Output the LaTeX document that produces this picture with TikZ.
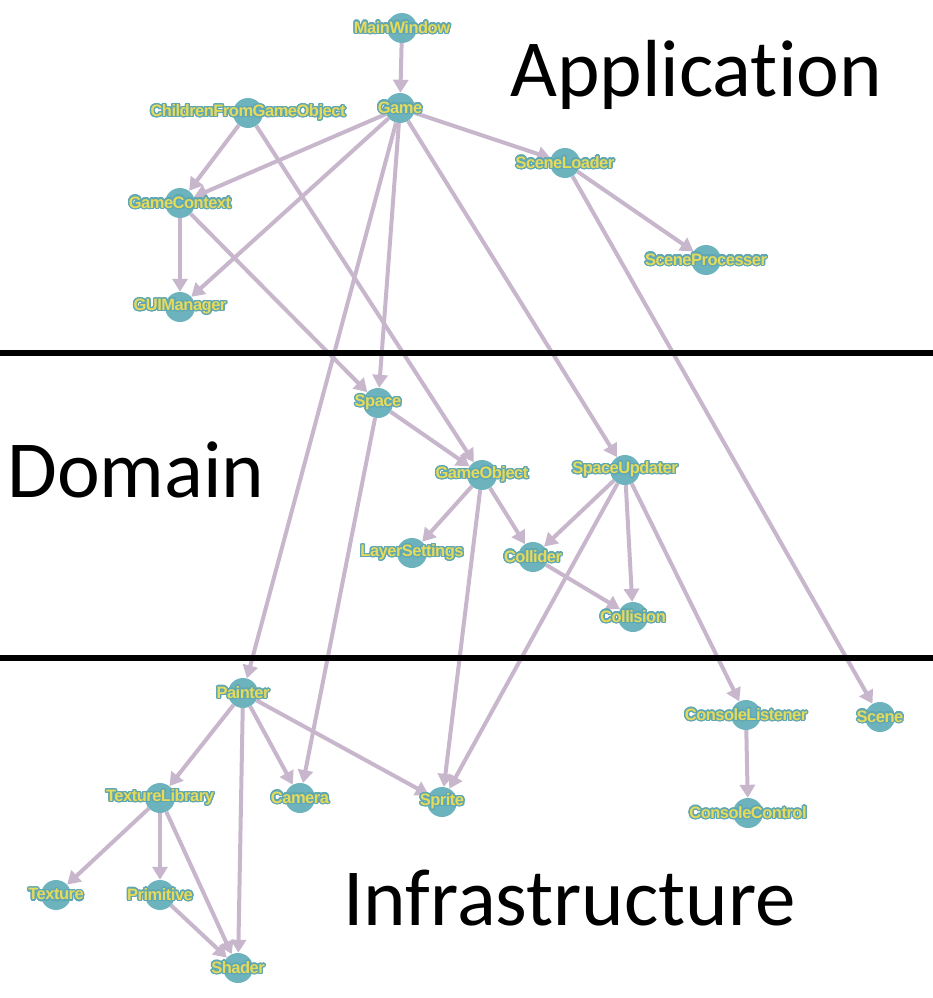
\documentclass[tikz,border=0pt]{standalone}
\usepackage{fontspec}
\usepackage[copies]{contour}
\usetikzlibrary{arrows.meta}
\newfontfamily\lblfont{Liberation Sans Bold}[LetterSpace=-3]
\newfontfamily\bigfont{Carlito}[Ligatures={NoCommon}]
\definecolor{nodeteal}{HTML}{6DB3BE}
\definecolor{lblyellow}{HTML}{E6DA5A}
\definecolor{lbledge}{HTML}{5FA7B3}
\definecolor{edgecol}{HTML}{C8B7CC}
\contourlength{1.3pt}
\contournumber{24}
\pgfdeclarelayer{bg}
\pgfsetlayers{bg,main}
\tikzset{
  lbl/.style={font=\lblfont\fontsize{16.5}{16.5}\selectfont, text=lblyellow, inner sep=0pt},
  cls/.style={circle, fill=nodeteal, minimum size=30pt, inner sep=0pt,
    label={[lbl]center:\contour{lbledge}{#1}}},
  dep/.style={draw=edgecol, line width=4pt, -{Triangle[length=13pt,width=15pt]}},
  layertxt/.style={font=\bigfont\fontsize{81}{81}\selectfont, anchor=base west, inner sep=0pt},
  sepline/.style={line width=6pt, black}
}
\begin{document}
\begin{tikzpicture}[x=1pt, y=-1pt]
\useasboundingbox (0,0) rectangle (933,998);
\begin{pgfonlayer}{bg}
\fill[white] (0,0) rectangle (933,998);
\end{pgfonlayer}
% layer labels
\node[layertxt] (app) at (510,96) {Application};
\node[layertxt] (dom) at (7,497) {Domain};
\node[layertxt] (inf) at (343,925) {Infrastructure};
% separators
\coordinate (s1l) at (0,353);
\coordinate (s1r) at (933,353);
\coordinate (s2l) at (0,658);
\coordinate (s2r) at (933,658);
\draw[sepline] (s1l) -- (s1r);
\draw[sepline] (s2l) -- (s2r);
% nodes
\node[cls=MainWindow] (mw) at (402,28) {};
\node[cls=Game] (game) at (400,108) {};
\node[cls=ChildrenFromGameObject] (cfgo) at (248,113) {};
\node[cls=GameContext] (gc) at (180,203) {};
\node[cls=GUIManager] (gui) at (180,307) {};
\node[cls=SceneLoader] (sl) at (565,163) {};
\node[cls=SceneProcesser] (sp) at (706,260) {};
\node[cls=Space] (space) at (378,403) {};
\node[cls=GameObject] (go) at (482,475) {};
\node[cls=SpaceUpdater] (su) at (625,470) {};
\node[cls=LayerSettings] (ls) at (412,553) {};
\node[cls=Collider] (col) at (533,557) {};
\node[cls=Collision] (coll) at (633,617) {};
\node[cls=Painter] (painter) at (243,693) {};
\node[cls=TextureLibrary] (tl) at (160,798) {};
\node[cls=Camera] (cam) at (300,798) {};
\node[cls=Sprite] (sprite) at (442,802) {};
\node[cls=Texture] (tex) at (56,895) {};
\node[cls=Primitive] (prim) at (160,895) {};
\node[cls=Shader] (shader) at (238,968) {};
\node[cls=ConsoleListener] (cl) at (746,715) {};
\node[cls=Scene] (scene) at (880,717) {};
\node[cls=ConsoleControl] (cc) at (748,813) {};
% edges
\begin{pgfonlayer}{bg}
\draw[dep] (mw) -- (game);
\draw[dep] (game) -- (gc);
\draw[dep] (game) -- (gui);
\draw[dep] (game) -- (space);
\draw[dep] (game) -- (painter);
\draw[dep] (game) -- (sl);
\draw[dep] (game) -- (su);
\draw[dep] (cfgo) -- (gc);
\draw[dep] (cfgo) -- (go);
\draw[dep] (gc) -- (gui);
\draw[dep] (gc) -- (space);
\draw[dep] (sl) -- (sp);
\draw[dep] (sl) -- (scene);
\draw[dep] (space) -- (go);
\draw[dep] (space) -- (cam);
\draw[dep] (go) -- (ls);
\draw[dep] (go) -- (col);
\draw[dep] (go) -- (sprite);
\draw[dep] (su) -- (col);
\draw[dep] (su) -- (sprite);
\draw[dep] (su) -- (coll);
\draw[dep] (su) -- (cl);
\draw[dep] (col) -- (coll);
\draw[dep] (painter) -- (tl);
\draw[dep] (painter) -- (shader);
\draw[dep] (painter) -- (cam);
\draw[dep] (painter) -- (sprite);
\draw[dep] (tl) -- (tex);
\draw[dep] (tl) -- (prim);
\draw[dep] (tl) -- (shader);
\draw[dep] (prim) -- (shader);
\draw[dep] (cl) -- (cc);
\end{pgfonlayer}
\end{tikzpicture}
\end{document}
